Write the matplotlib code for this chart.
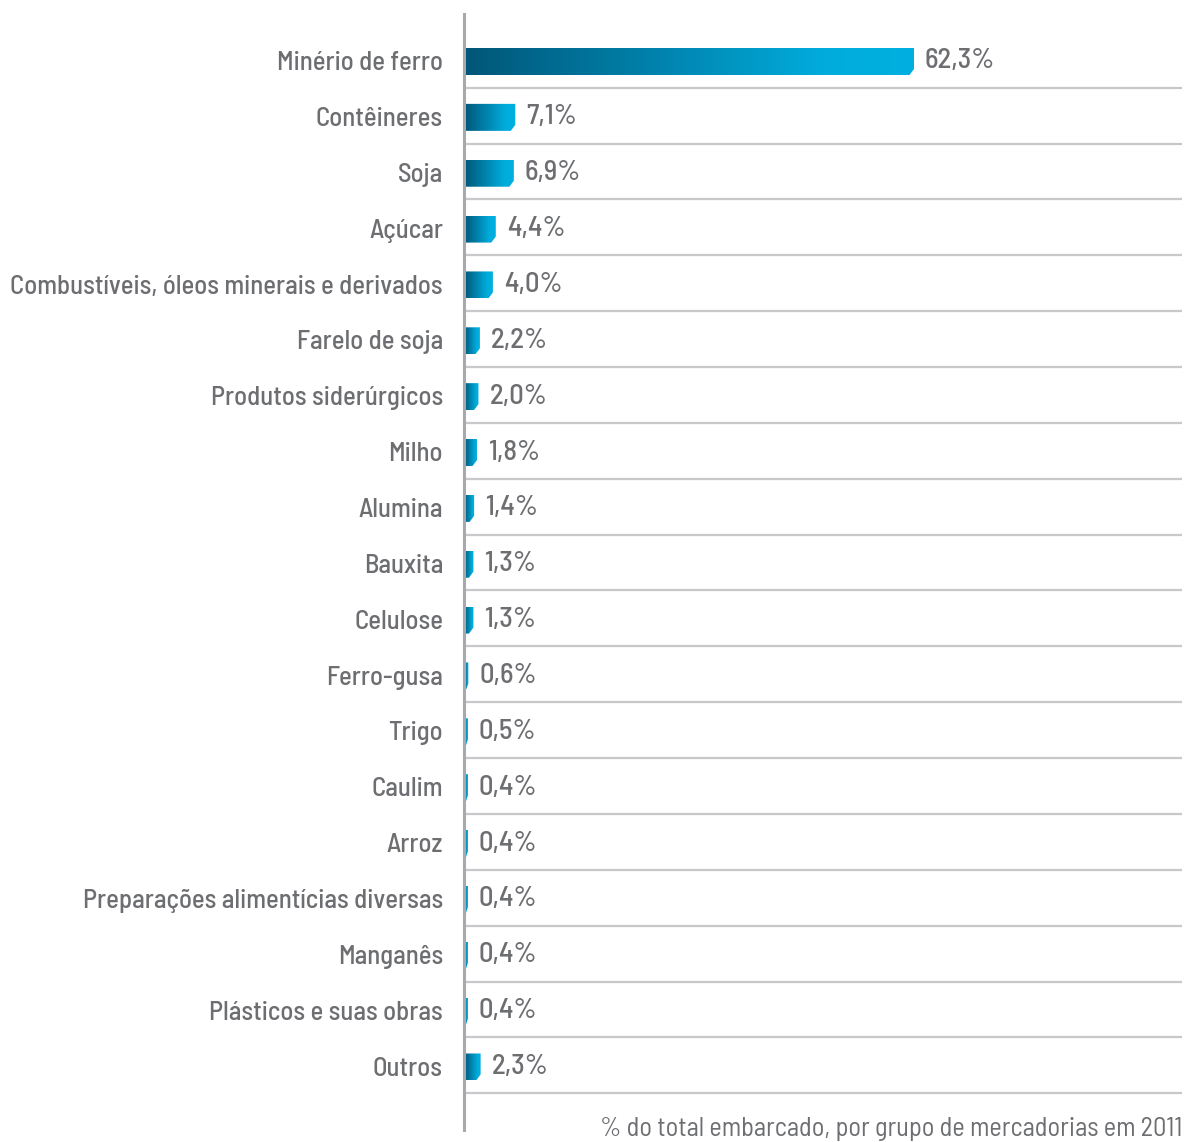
import matplotlib
matplotlib.use("Agg")
import matplotlib.pyplot as plt
import numpy as np
from matplotlib.colors import LinearSegmentedColormap
from matplotlib.patches import Polygon
from matplotlib.font_manager import fontManager

categories = ["Minério de ferro", "Contêineres", "Soja", "Açúcar",
              "Combustíveis, óleos minerais e derivados", "Farelo de soja",
              "Produtos siderúrgicos", "Milho", "Alumina", "Bauxita", "Celulose",
              "Ferro-gusa", "Trigo", "Caulim", "Arroz",
              "Preparações alimentícias diversas", "Manganês",
              "Plásticos e suas obras", "Outros"]
values = [62.3, 7.1, 6.9, 4.4, 4.0, 2.2, 2.0, 1.8, 1.4, 1.3, 1.3,
          0.6, 0.5, 0.4, 0.4, 0.4, 0.4, 0.4, 2.3]
value_labels = ["62,3%", "7,1%", "6,9%", "4,4%", "4,0%", "2,2%", "2,0%", "1,8%",
                "1,4%", "1,3%", "1,3%", "0,6%", "0,5%", "0,4%", "0,4%", "0,4%",
                "0,4%", "0,4%", "2,3%"]
caption = "% do total embarcado, por grupo de mercadorias em 2011"

names = {f.name for f in fontManager.ttflist}
fam = "DejaVu Sans"
for cand in ["Barlow Semi Condensed", "Roboto Condensed", "Archivo Narrow",
             "PT Sans Narrow", "Encode Sans Condensed", "Open Sans Condensed",
             "Liberation Sans Narrow"]:
    if cand in names:
        fam = cand
        break
plt.rcParams["font.family"] = [fam, "DejaVu Sans"]
WEIGHT = "medium"

W, H = 1184, 1142
fig = plt.figure(figsize=(W / 100, H / 100), dpi=100)
renderer = fig.canvas.get_renderer()

def fit(text, target, weight):
    p = fig.text(0, 0, text, fontsize=20, fontweight=weight)
    w = p.get_window_extent(renderer).width
    p.remove()
    return min(20 * target / w, 24)

fs = fit("Combustíveis, óleos minerais e derivados", 433, WEIGHT)
fs_val = fit("62,3%", 70, WEIGHT)
fs_cap = fit(caption, 584, "normal")

ax_left, ax_right, ax_top, ax_bot = 464, 1182, 14, 1130
ax = fig.add_axes([ax_left / W, 1 - ax_bot / H, (ax_right - ax_left) / W, (ax_bot - ax_top) / H])

px_per_pct = 450 / 62.3
xmax = (ax_right - ax_left) / px_per_pct
row_px = 55.86
y0_px = 61.5
ylim = ((ax_bot - y0_px) / row_px, (ax_top - y0_px) / row_px)
ax.set_xlim(0, xmax)
ax.set_ylim(*ylim)
ax.axis("off")

text_color = "#6d6e71"
cmap = LinearSegmentedColormap.from_list(
    "g", [(0, "#005677"), (0.45, "#0085b0"), (0.8, "#00acdc"), (1, "#00b0e0")])
grad = np.linspace(0, 1, 256).reshape(1, -1)

n = len(categories)
ypos = np.arange(n)
bh = 27 / row_px

for i in range(n):
    ax.plot([0, xmax], [i + 0.47, i + 0.47], color="#c8c8ca", lw=1.6,
            solid_capstyle="butt", zorder=1)
ax.plot([0, 0], ylim, color="#a7a9ac", lw=2.2, zorder=4, clip_on=False)

for y, v, lab, name in zip(ypos, values, value_labels, categories):
    top, bot = y - bh / 2, y + bh / 2
    vv = max(v, 0.55)
    cx = min(4.5 / px_per_pct, vv * 0.5)
    cy = 6 / row_px
    poly = Polygon([(0, top), (vv, top), (vv, bot - cy), (vv - cx, bot), (0, bot)],
                   closed=True, facecolor="none", edgecolor="none")
    ax.add_patch(poly)
    im = ax.imshow(grad, cmap=cmap, extent=(0, vv, bot, top), aspect="auto",
                   interpolation="bicubic", zorder=3)
    im.set_clip_path(poly)
    xl = max(v + 11 / px_per_pct, 15 / px_per_pct)
    ax.text(xl, y, lab, ha="left", va="center", fontsize=fs_val,
            fontweight=WEIGHT, color=text_color, zorder=5)
    ax.text(-21 / px_per_pct, y + 0.03, name, ha="right", va="center", fontsize=fs,
            fontweight=WEIGHT, color=text_color, zorder=5, clip_on=False)

ax.set_xlim(0, xmax)
ax.set_ylim(*ylim)

fig.text(1182 / W, 1 - 1129 / H, caption, ha="right", va="center", fontsize=fs_cap,
         color=text_color)

fig.savefig("out.png", dpi=100, facecolor="white")
